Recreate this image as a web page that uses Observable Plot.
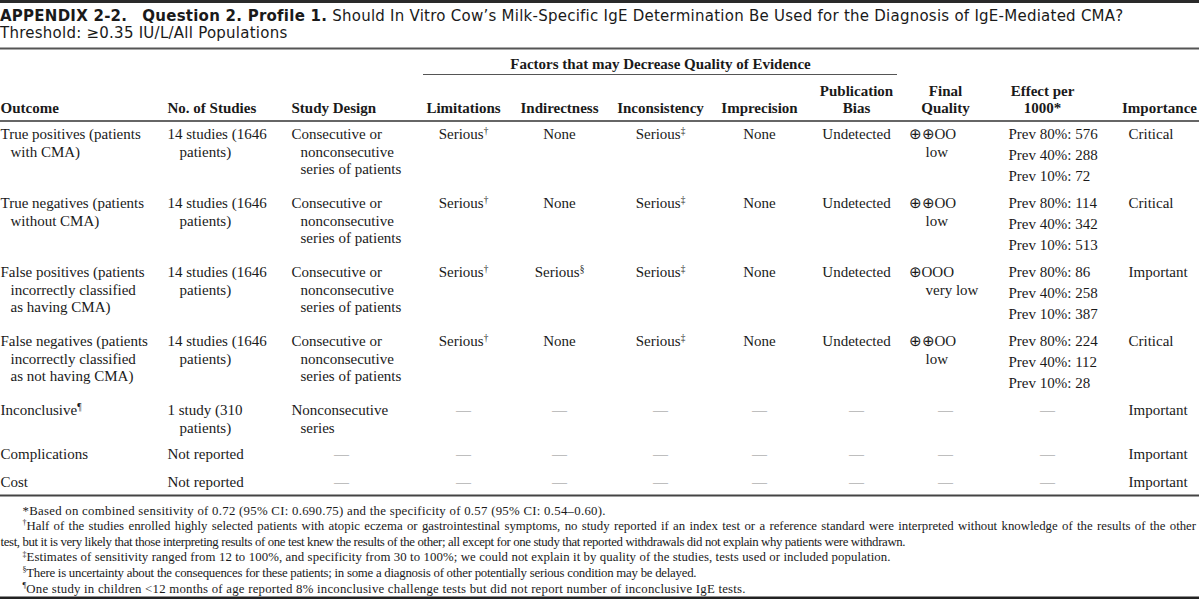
<!DOCTYPE html>
<html><head><meta charset="utf-8">
<script src="https://cdn.jsdelivr.net/npm/d3@7"></script>
<script src="https://cdn.jsdelivr.net/npm/@observablehq/plot@0.6"></script>
<style>
body{margin:0;background:#fff;width:1199px;height:599px;overflow:hidden;}
#title{box-sizing:border-box;height:47px;border-top:3px solid #2a2a2a;font-family:"DejaVu Sans",sans-serif;font-size:15px;color:#1a1a1a;padding-top:4.5px;white-space:nowrap;}
#title .ln{height:17.5px;line-height:17.5px;overflow:visible;}
#title b{font-weight:700;}
#chart svg{display:block;}
</style></head><body>
<div id="title"><div class="ln" id="t1"><b>APPENDIX 2-2.</b>&nbsp;&nbsp; <b>Question 2. Profile 1.</b> Should In Vitro Cow’s Milk-Specific IgE Determination Be Used for the Diagnosis of IgE-Mediated CMA?</div><div class="ln" id="t2">Threshold: ≥0.35 IU/L/All Populations</div></div>
<div id="chart"></div>
<script>
// ---------- data ----------
const groupHeader = "Factors that may Decrease Quality of Evidence";
const headers = [["Outcome"], ["No. of Studies"], ["Study Design"], ["Limitations"], ["Indirectness"], ["Inconsistency"], ["Imprecision"], ["Publication", "Bias"], ["Final", "Quality"], ["Effect per", "1000*"], ["Importance"]];
const outcomes = [["True positives (patients", "with CMA)"], ["True negatives (patients", "without CMA)"], ["False positives (patients", "incorrectly classified", "as having CMA)"], ["False negatives (patients", "incorrectly classified", "as not having CMA)"], ["Inconclusive¶"], ["Complications"], ["Cost"]];
const studies = [["14 studies (1646", "patients)"], ["14 studies (1646", "patients)"], ["14 studies (1646", "patients)"], ["14 studies (1646", "patients)"], ["1 study (310", "patients)"], ["Not reported"], ["Not reported"]];
const designs = [["Consecutive or", "nonconsecutive", "series of patients"], ["Consecutive or", "nonconsecutive", "series of patients"], ["Consecutive or", "nonconsecutive", "series of patients"], ["Consecutive or", "nonconsecutive", "series of patients"], ["Nonconsecutive", "series"], ["—"], ["—"]];
const limitations = ["Serious†", "Serious†", "Serious†", "Serious†", "—", "—", "—"];
const indirectness = ["None", "None", "Serious§", "None", "—", "—", "—"];
const inconsistency = ["Serious‡", "Serious‡", "Serious‡", "Serious‡", "—", "—", "—"];
const imprecision = ["None", "None", "None", "None", "—", "—", "—"];
const publicationBias = ["Undetected", "Undetected", "Undetected", "Undetected", "—", "—", "—"];
const quality = [["⊕⊕OO", "low"], ["⊕⊕OO", "low"], ["⊕OOO", "very low"], ["⊕⊕OO", "low"], ["—"], ["—"], ["—"]];
const prevalences = ["Prev 80%", "Prev 40%", "Prev 10%"];
const effects = [[576, 288, 72], [114, 342, 513], [86, 258, 387], [224, 112, 28], null, null, null];
const importance = ["Critical", "Critical", "Important", "Critical", "Important", "Important", "Important"];
const footnotes = [
  "*Based on combined sensitivity of 0.72 (95% CI: 0.690.75) and the specificity of 0.57 (95% CI: 0.54–0.60).",
  "†Half of the studies enrolled highly selected patients with atopic eczema or gastrointestinal symptoms, no study reported if an index test or a reference standard were interpreted without knowledge of the results of the other",
  "test, but it is very likely that those interpreting results of one test knew the results of the other; all except for one study that reported withdrawals did not explain why patients were withdrawn.",
  "‡Estimates of sensitivity ranged from 12 to 100%, and specificity from 30 to 100%; we could not explain it by quality of the studies, tests used or included population.",
  "§There is uncertainty about the consequences for these patients; in some a diagnosis of other potentially serious condition may be delayed.",
  "¶One study in children <12 months of age reported 8% inconclusive challenge tests but did not report number of inconclusive IgE tests."
];

// ---------- layout ----------
const TOP = 47, W = 1199, H = 599;
const cols = [
  {left: 0, indent: 10, center: null, headAnchor: "start"},
  {left: 167, indent: 12, center: 210, headAnchor: "start"},
  {left: 291, indent: 9, center: 341, headAnchor: "start"},
  {left: null, center: 463},
  {left: null, center: 559},
  {left: null, center: 660},
  {left: null, center: 759},
  {left: null, center: 856},
  {left: 908, indent: 17, center: 945},
  {left: 1008, indent: 0, center: 1042},
  {left: 1128, indent: 0, center: 1159}
];
const rowY = [134, 203, 272, 341, 410, 454, 482];
const lineStep = 17.5, effectStep = 21;
const headY = [91, 108];
const footY0 = 510, footStep = 15.6;
const footFont = 12.8;
const footEnds = [605, 1198, 905, 890, 696, 745]; // right ends of the typeset footnote lines

// ---------- build cells ----------
const startCells = [], midCells = [], dashCells = [], headStart = [], headMid = [];
const columns = [outcomes, studies, designs, limitations, indirectness, inconsistency, imprecision, publicationBias, quality, null, importance];
columns.forEach((colData, c) => {
  if (!colData) return;
  const col = cols[c];
  colData.forEach((cell, r) => {
    const lines = Array.isArray(cell) ? cell : [cell];
    lines.forEach((t, i) => {
      const y = rowY[r] + i * lineStep;
      if (t === "—") dashCells.push({x: col.center, y, t});
      else if (col.left === null) midCells.push({x: col.center, y, t});
      else startCells.push({x: col.left + (i ? col.indent : 0), y, t});
    });
  });
});
effects.forEach((vals, r) => {
  if (!vals) { dashCells.push({x: cols[9].center + 5, y: rowY[r], t: "—"}); return; }
  vals.forEach((v, i) => startCells.push({x: cols[9].left, y: rowY[r] + i * effectStep, t: `${prevalences[i]}: ${v}`}));
});
headers.forEach((h, c) => {
  const col = cols[c];
  h.forEach((t, i) => {
    const y = headY[h.length === 1 ? 1 : i];
    if (col.headAnchor === "start") headStart.push({x: col.left, y, t});
    else headMid.push({x: col.center, y, t});
  });
});
const foot = footnotes.map((t, i) => ({x: i === 2 ? 0 : 22, y: footY0 + i * footStep, t, i}));

const serif = "Liberation Serif, Times New Roman, serif";
const ink = "#1a1a1a";
const chart = Plot.plot({
  width: W, height: H - TOP, margin: 0,
  x: {domain: [0, W], range: [0, W], axis: null},
  y: {domain: [TOP, H], range: [0, H - TOP], axis: null},
  style: {background: "#fff"},
  marks: [
    Plot.ruleY([48], {stroke: "#555", strokeWidth: 2}),
    Plot.ruleY([74], {x1: 423, x2: 897, stroke: "#555", strokeWidth: 1.2}),
    Plot.ruleY([120.5], {stroke: "#333", strokeWidth: 1.5}),
    Plot.ruleY([495], {stroke: "#444", strokeWidth: 2}),
    Plot.ruleY([597.5], {stroke: "#222", strokeWidth: 3}),
    Plot.text([groupHeader], {x: 660, y: 64, text: d => d, fontFamily: serif, fontWeight: "bold", fontSize: 15, fill: ink, lineAnchor: "middle"}),
    Plot.text(headStart, {x: "x", y: "y", text: "t", textAnchor: "start", fontFamily: serif, fontWeight: "bold", fontSize: 15, fill: ink, lineAnchor: "middle"}),
    Plot.text(headMid, {x: "x", y: "y", text: "t", textAnchor: "middle", fontFamily: serif, fontWeight: "bold", fontSize: 15, fill: ink, lineAnchor: "middle"}),
    Plot.text(startCells, {x: "x", y: "y", text: "t", textAnchor: "start", fontFamily: serif, fontSize: 15, fill: ink, lineAnchor: "middle"}),
    Plot.text(midCells, {x: "x", y: "y", text: "t", textAnchor: "middle", fontFamily: serif, fontSize: 15, fill: ink, lineAnchor: "middle"}),
    Plot.text(dashCells, {x: "x", y: "y", text: "t", textAnchor: "middle", fontFamily: serif, fontSize: 15, fill: "#8c8c8c", lineAnchor: "middle"}),
    Plot.text(foot, {x: "x", y: "y", text: "t", textAnchor: "start", fontFamily: serif, fontSize: footFont, fill: ink, lineAnchor: "middle", className: "foot"})
  ]
});
document.getElementById("chart").appendChild(chart);

// fit footnote lines to their typeset widths
const footTexts = Array.from(chart.querySelectorAll("g.foot text"));
footTexts.forEach((t, i) => {
  const start = foot[i].x;
  const len = t.getComputedTextLength();
  const target = footEnds[i] - start;
  if (i === 1) {
    const spaces = (t.textContent.match(/ /g) || []).length;
    if (spaces) t.style.wordSpacing = ((target - len) / spaces) + "px";
  } else {
    t.setAttribute("textLength", target);
    t.setAttribute("lengthAdjust", "spacing");
  }
});

// superscript footnote markers
const SUP = /[†‡§¶]/;
chart.querySelectorAll("text").forEach(t => {
  if (t.querySelector("tspan")) return;
  const s = t.textContent;
  if (!SUP.test(s)) return;
  const fs = parseFloat(getComputedStyle(t).fontSize) || 15;
  const shift = fs * 0.38;
  t.textContent = "";
  let raised = false;
  s.split(/([†‡§¶])/).filter(p => p !== "").forEach(p => {
    const ts = document.createElementNS("http://www.w3.org/2000/svg", "tspan");
    if (SUP.test(p)) { ts.setAttribute("font-size", (fs * 0.62) + "px"); ts.setAttribute("dy", -shift); raised = true; }
    else if (raised) { ts.setAttribute("dy", shift); raised = false; }
    ts.textContent = p;
    t.appendChild(ts);
  });
});

// fit title line width to the width used by the original layout
const t1 = document.getElementById("t1");
const r = document.createRange(); r.selectNodeContents(t1);
const w1 = r.getBoundingClientRect().width;
const n1 = t1.textContent.length;
document.getElementById("title").style.letterSpacing = ((1123 - w1) / n1) + "px";
</script>
</body></html>
